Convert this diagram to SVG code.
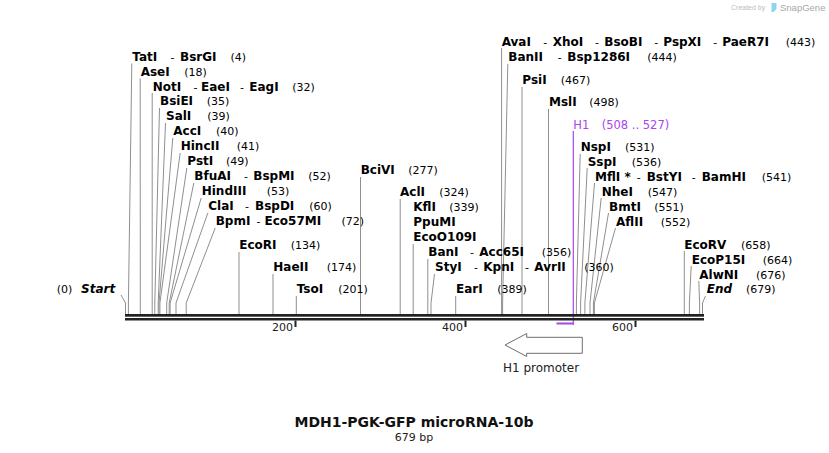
<svg xmlns="http://www.w3.org/2000/svg" width="829" height="453" viewBox="0 0 829 453">
<style>
text{font-family:"DejaVu Sans","Verdana",sans-serif;fill:#000}
.n{font-size:12px;font-weight:bold}
.r{font-size:11px;font-weight:normal}
.bi{font-size:12px;font-weight:bold;font-style:italic}
.p{fill:#a845f2;font-size:11.5px}
.c line,.c polyline{stroke:#8f8f8f;stroke-width:1;fill:none}
.ax{fill:#222}
.tk{font-size:11px;fill:#222}
</style>
<rect width="829" height="453" fill="#fff"/>
<g id="watermark">
<text x="731" y="10" style="font-family:'Liberation Sans',sans-serif;font-size:7px;fill:#bdbdbd">Created by</text>
<path d="M771.5 3 L776.5 3 L776.5 9 L773.5 12 L771.5 12 Z" fill="#8fd3f0"/>
<text x="780" y="11" style="font-family:'Liberation Sans',sans-serif;font-size:9.5px;fill:#a8a8a8">SnapGene</text>
</g>
<g id="connectors" class="c">
<polyline points="121,295 125.5,303 125.5,314"/>
<polyline points="131.8,63.5 128.4,303 128.4,314"/>
<polyline points="140.2,78.5 140.3,303 140.3,314"/>
<polyline points="152.2,93 152.2,303 152.2,314"/>
<polyline points="159.5,108 154.8,303 154.8,314"/>
<polyline points="165.5,123 158.2,303 158.2,314"/>
<polyline points="172.8,138 159,303 159,314"/>
<polyline points="180.2,153 159.9,303 159.9,314"/>
<polyline points="186.8,168 166.7,303 166.7,314"/>
<polyline points="193.8,183 169.2,303 169.2,314"/>
<polyline points="201.2,198 170.1,303 170.1,314"/>
<polyline points="207.8,213 176,303 176,314"/>
<polyline points="215.2,228 186.2,303 186.2,314"/>
<line x1="239" y1="252" x2="239" y2="314"/>
<line x1="273" y1="274" x2="273" y2="314"/>
<line x1="296.3" y1="296" x2="296.3" y2="314"/>
<line x1="360.5" y1="177" x2="360.5" y2="314"/>
<line x1="400.2" y1="199" x2="400.2" y2="314"/>
<line x1="413.2" y1="244" x2="413.2" y2="314"/>
<line x1="427.8" y1="259" x2="427.8" y2="314"/>
<polyline points="434.5,274 431,303 431,314"/>
<line x1="455.7" y1="296" x2="455.7" y2="314"/>
<line x1="501.6" y1="48" x2="501.6" y2="314"/>
<polyline points="507.8,64 502.6,303 502.6,314"/>
<line x1="522" y1="87" x2="522" y2="314"/>
<line x1="548.5" y1="109" x2="548.5" y2="314"/>
<polyline points="580.2,154 576.4,303 576.4,314"/>
<polyline points="587.2,168 580.6,303 580.6,314"/>
<polyline points="594.5,183 584.9,303 584.9,314"/>
<polyline points="601.2,198 590,303 590,314"/>
<polyline points="608.5,213 593.4,303 593.4,314"/>
<polyline points="615.5,228 594.4,303 594.4,314"/>
<line x1="684.3" y1="251" x2="684.3" y2="314"/>
<polyline points="691.2,266 689.4,303 689.4,314"/>
<polyline points="698.8,281 699.6,303 699.6,314"/>
<polyline points="705.5,296 702.5,303 702.5,314"/>
<line x1="573.3" y1="131" x2="573.3" y2="325" style="stroke:#a845f2;stroke-width:1.2"/>
</g>
<g id="axis">
<rect class="ax" x="125" y="314" width="579" height="2.7"/>
<rect class="ax" x="125" y="318" width="579" height="2.5"/>
<rect class="ax" x="294.5" y="320.5" width="2" height="6.5"/>
<rect class="ax" x="464.5" y="320.5" width="2" height="6.5"/>
<rect class="ax" x="634.5" y="320.5" width="2" height="6.5"/>
<text class="tk" x="293" y="331" text-anchor="end">200</text>
<text class="tk" x="463" y="331" text-anchor="end">400</text>
<text class="tk" x="633" y="331" text-anchor="end">600</text>
<rect x="556.5" y="322.5" width="16.5" height="2" fill="#a845f2"/>
</g>
<g id="start"><text y="293.3"><tspan class="r" x="56.7">(0)</tspan><tspan class="bi" x="81">Start</tspan></text></g>
<g id="TatI"><text class="n" y="60.5"><tspan x="132.3">TatI</tspan><tspan class="r" x="170.5">-</tspan><tspan x="180">BsrGI</tspan><tspan class="r" x="230.5">(4)</tspan></text></g>
<g id="AseI"><text class="n" y="75.5"><tspan x="140.7">AseI</tspan><tspan class="r" x="184.3">(18)</tspan></text></g>
<g id="NotI"><text class="n" y="90.5"><tspan x="152.7">NotI</tspan><tspan class="r" x="193.5">-</tspan><tspan x="201">EaeI</tspan><tspan class="r" x="240">-</tspan><tspan x="249.3">EagI</tspan><tspan class="r" x="292.3">(32)</tspan></text></g>
<g id="BsiEI"><text class="n" y="105.3"><tspan x="160">BsiEI</tspan><tspan class="r" x="206.7">(35)</tspan></text></g>
<g id="SalI"><text class="n" y="120.3"><tspan x="166">SalI</tspan><tspan class="r" x="207.3">(39)</tspan></text></g>
<g id="AccI"><text class="n" y="135.3"><tspan x="173.3">AccI</tspan><tspan class="r" x="216">(40)</tspan></text></g>
<g id="HincII"><text class="n" y="150.3"><tspan x="180.7">HincII</tspan><tspan class="r" x="236.7">(41)</tspan></text></g>
<g id="PstI"><text class="n" y="165.3"><tspan x="187.3">PstI</tspan><tspan class="r" x="226">(49)</tspan></text></g>
<g id="BfuAI"><text class="n" y="180.3"><tspan x="194.3">BfuAI</tspan><tspan class="r" x="244">-</tspan><tspan x="253.3">BspMI</tspan><tspan class="r" x="308.3">(52)</tspan></text></g>
<g id="HindIII"><text class="n" y="195.3"><tspan x="201.7">HindIII</tspan><tspan class="r" x="266.7">(53)</tspan></text></g>
<g id="ClaI"><text class="n" y="210.3"><tspan x="208.3">ClaI</tspan><tspan class="r" x="245">-</tspan><tspan x="255">BspDI</tspan><tspan class="r" x="309.3">(60)</tspan></text></g>
<g id="BpmI"><text class="n" y="225.3"><tspan x="215.7">BpmI</tspan><tspan class="r" x="256.5">-</tspan><tspan x="264.5">Eco57MI</tspan><tspan class="r" x="341.5">(72)</tspan></text></g>
<g id="EcoRI"><text class="n" y="249"><tspan x="239.3">EcoRI</tspan><tspan class="r" x="290.7">(134)</tspan></text></g>
<g id="HaeII"><text class="n" y="271"><tspan x="273.3">HaeII</tspan><tspan class="r" x="326.7">(174)</tspan></text></g>
<g id="TsoI"><text class="n" y="293.3"><tspan x="296.7">TsoI</tspan><tspan class="r" x="338.3">(201)</tspan></text></g>
<g id="BciVI"><text class="n" y="174"><tspan x="360.7">BciVI</tspan><tspan class="r" x="408.3">(277)</tspan></text></g>
<g id="AclI"><text class="n" y="196"><tspan x="400">AclI</tspan><tspan class="r" x="439.3">(324)</tspan></text></g>
<g id="KflI"><text class="n" y="211"><tspan x="413.3">KflI</tspan><tspan class="r" x="449.3">(339)</tspan></text></g>
<g id="PpuMI"><text class="n" x="413.3" y="225.7">PpuMI</text></g>
<g id="EcoO109I"><text class="n" x="413.3" y="240.7">EcoO109I</text></g>
<g id="BanI"><text class="n" y="256"><tspan x="428.3">BanI</tspan><tspan class="r" x="470">-</tspan><tspan x="479.3">Acc65I</tspan><tspan class="r" x="541.7">(356)</tspan></text></g>
<g id="StyI"><text class="n" y="270.7"><tspan x="435">StyI</tspan><tspan class="r" x="474">-</tspan><tspan x="483.3">KpnI</tspan><tspan class="r" x="525">-</tspan><tspan x="534.3">AvrII</tspan><tspan class="r" x="584.3">(360)</tspan></text></g>
<g id="EarI"><text class="n" y="293.3"><tspan x="456">EarI</tspan><tspan class="r" x="497.3">(389)</tspan></text></g>
<g id="AvaI"><text class="n" y="45.5"><tspan x="501.7">AvaI</tspan><tspan class="r" x="543.3">-</tspan><tspan x="552.7">XhoI</tspan><tspan class="r" x="595">-</tspan><tspan x="604.3">BsoBI</tspan><tspan class="r" x="654.3">-</tspan><tspan x="663.3">PspXI</tspan><tspan class="r" x="713.3">-</tspan><tspan x="722.3">PaeR7I</tspan><tspan class="r" x="785.7">(443)</tspan></text></g>
<g id="BanII"><text class="n" y="60.7"><tspan x="508.3">BanII</tspan><tspan class="r" x="557.7">-</tspan><tspan x="567.3">Bsp1286I</tspan><tspan class="r" x="647.3">(444)</tspan></text></g>
<g id="PsiI"><text class="n" y="84"><tspan x="522.3">PsiI</tspan><tspan class="r" x="560.7">(467)</tspan></text></g>
<g id="MslI"><text class="n" y="106"><tspan x="549">MslI</tspan><tspan class="r" x="589.3">(498)</tspan></text></g>
<g id="H1"><text class="p" y="128.5"><tspan x="573.3">H1</tspan><tspan x="601.7">(508 .. 527)</tspan></text></g>
<g id="NspI"><text class="n" y="150.7"><tspan x="580.7">NspI</tspan><tspan class="r" x="625">(531)</tspan></text></g>
<g id="SspI"><text class="n" y="165.5"><tspan x="587.7">SspI</tspan><tspan class="r" x="631.7">(536)</tspan></text></g>
<g id="MflI"><text class="n" y="180.5"><tspan x="595">MflI</tspan><tspan x="624.5">*</tspan><tspan class="r" x="636.7">-</tspan><tspan x="646.7">BstYI</tspan><tspan class="r" x="691.7">-</tspan><tspan x="701.7">BamHI</tspan><tspan class="r" x="761.7">(541)</tspan></text></g>
<g id="NheI"><text class="n" y="195.5"><tspan x="601.7">NheI</tspan><tspan class="r" x="647.7">(547)</tspan></text></g>
<g id="BmtI"><text class="n" y="210.5"><tspan x="609">BmtI</tspan><tspan class="r" x="654.3">(551)</tspan></text></g>
<g id="AflII"><text class="n" y="225.5"><tspan x="616">AflII</tspan><tspan class="r" x="660.7">(552)</tspan></text></g>
<g id="EcoRV"><text class="n" y="248.5"><tspan x="684.3">EcoRV</tspan><tspan class="r" x="741">(658)</tspan></text></g>
<g id="EcoP15I"><text class="n" y="263.5"><tspan x="691.7">EcoP15I</tspan><tspan class="r" x="762.7">(664)</tspan></text></g>
<g id="AlwNI"><text class="n" y="278.5"><tspan x="699.3">AlwNI</tspan><tspan class="r" x="756">(676)</tspan></text></g>
<g id="end"><text y="293.3"><tspan class="bi" x="706.7">End</tspan><tspan class="r" x="746">(679)</tspan></text></g>
<g id="H1promoter">
<polygon points="505,345 526.7,333.5 526.7,337.3 582.3,337.3 582.3,353.3 526.7,353.3 526.7,356.5" fill="#fff" stroke="#6e6e6e" stroke-width="1"/>
<text x="541" y="371.5" text-anchor="middle" style="font-size:12px;fill:#222">H1 promoter</text>
</g>
<g id="title">
<text x="414" y="427" text-anchor="middle" style="font-size:14px;font-weight:bold;fill:#111">MDH1-PGK-GFP microRNA-10b</text>
<text x="414" y="441" text-anchor="middle" style="font-size:11px;fill:#222">679 bp</text>
</g>
</svg>
